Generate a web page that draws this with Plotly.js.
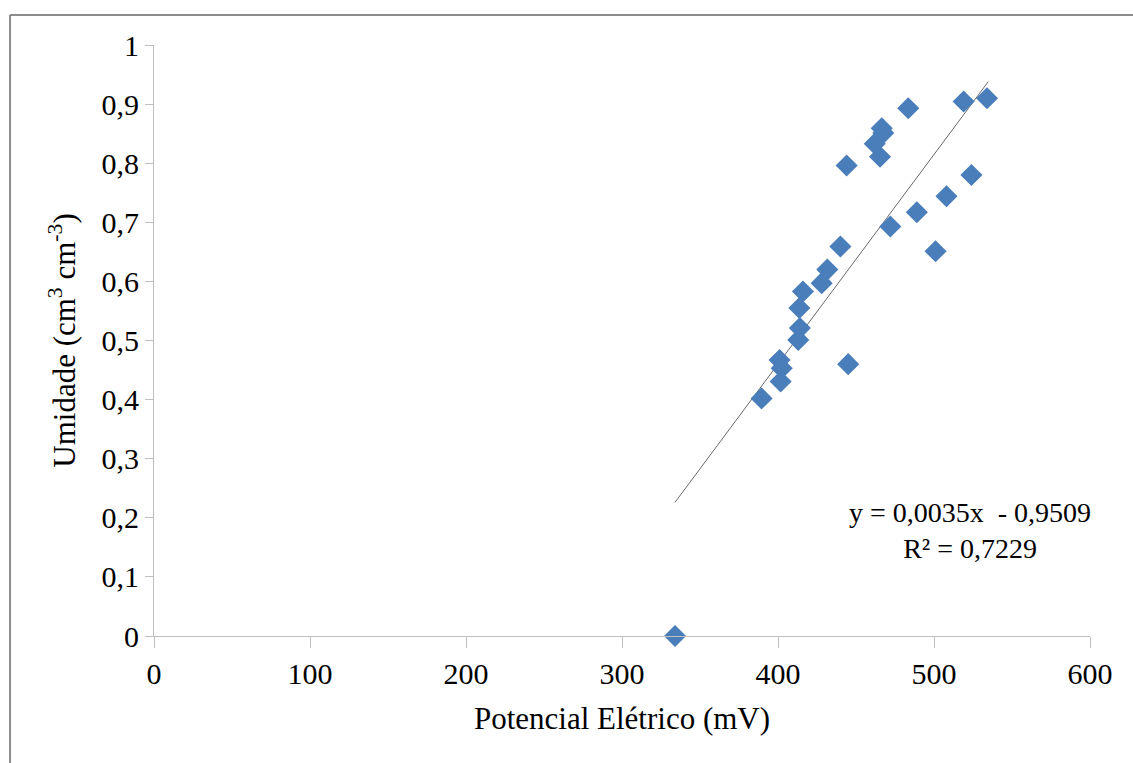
<!DOCTYPE html>
<html>
<head>
<meta charset="utf-8">
<script src="https://cdn.plot.ly/plotly-3.0.1.min.js"></script>
<style>
  html, body { margin: 0; padding: 0; background: #ffffff; }
  #chart { width: 1133px; height: 763px; }
</style>
</head>
<body>
<div id="chart"></div>
<script>
// Data
const potencialMV = [334, 389.5, 401, 402.4, 401.7, 413, 414, 413.7, 416, 428, 431.6, 440, 444, 445, 462, 466.5, 467.5, 465.4, 472, 483.5, 489, 501, 508, 519, 524, 534];
const umidade     = [0, 0.402, 0.467, 0.453, 0.4305, 0.501, 0.521, 0.555, 0.583, 0.597, 0.620, 0.659, 0.796, 0.46, 0.833, 0.859, 0.851, 0.811, 0.693, 0.893, 0.717, 0.651, 0.744, 0.9045, 0.780, 0.910];
const xTicks = [0, 100, 200, 300, 400, 500, 600];
const yTicks = [0, 0.1, 0.2, 0.3, 0.4, 0.5, 0.6, 0.7, 0.8, 0.9, 1];
const equationText = 'y = 0,0035x  - 0,9509<br>R² = 0,7229';
// Trend line as drawn in the reference (unrounded coefficients)
const trendCoef = [0.003545, -0.9578];   // [slope, intercept]
const trendX = [334, 534.8];
const trendY = trendX.map(x => trendCoef[0] * x + trendCoef[1]);

const font = '"Times New Roman", "Liberation Serif", "DejaVu Serif", Times, serif';

const traces = [
  {
    x: trendX, y: trendY, type: 'scatter', mode: 'lines',
    line: { color: '#6a6a6a', width: 1 }, hoverinfo: 'skip', showlegend: false
  },
  {
    x: potencialMV, y: umidade, type: 'scatter', mode: 'markers',
    marker: { symbol: 'diamond', size: 17, color: '#4a7ebb', line: { width: 0 } },
    cliponaxis: false, showlegend: false
  }
];

const axisCommon = {
  showline: true, linecolor: '#bfbfbf', linewidth: 1,
  ticks: 'outside', tickcolor: '#bfbfbf', tickwidth: 1,
  showgrid: false, zeroline: false,
  tickfont: { family: font, size: 30, color: '#000000' }
};

const layout = {
  width: 1133, height: 763,
  margin: { l: 154, r: 43, t: 45, b: 127, pad: 0 },
  paper_bgcolor: '#ffffff', plot_bgcolor: '#ffffff',
  separators: ', ',
  font: { family: font, color: '#000000' },
  showlegend: false,
  xaxis: Object.assign({}, axisCommon, {
    range: [0, 600], tickvals: xTicks, ticklen: 11,
    title: { text: 'Potencial Elétrico (mV)', font: { family: font, size: 31, color: '#000000' }, standoff: 18 }
  }),
  yaxis: Object.assign({}, axisCommon, {
    range: [0, 1], tickvals: yTicks, ticklen: 8,
    title: { text: 'Umidade (cm<sup>3</sup> cm<sup>-3</sup>)', font: { family: font, size: 31, color: '#000000' }, standoff: 16 }
  }),
  annotations: [{
    xref: 'paper', yref: 'paper', x: 0.872, y: 0.178,
    xanchor: 'center', yanchor: 'middle', align: 'center',
    text: equationText, showarrow: false,
    font: { family: font, size: 28, color: '#000000' }
  }],
  shapes: [
    { type: 'line', xref: 'paper', yref: 'paper', x0: -0.1538, x1: 1.05, y0: 1.0508, y1: 1.0508,
      line: { color: '#8c8c8c', width: 2 } },
    { type: 'line', xref: 'paper', yref: 'paper', x0: -0.1538, x1: -0.1538, y0: 1.0508, y1: -0.22,
      line: { color: '#8c8c8c', width: 2 } }
  ]
};

Plotly.newPlot('chart', traces, layout, { displayModeBar: false, staticPlot: true });
</script>
</body>
</html>
